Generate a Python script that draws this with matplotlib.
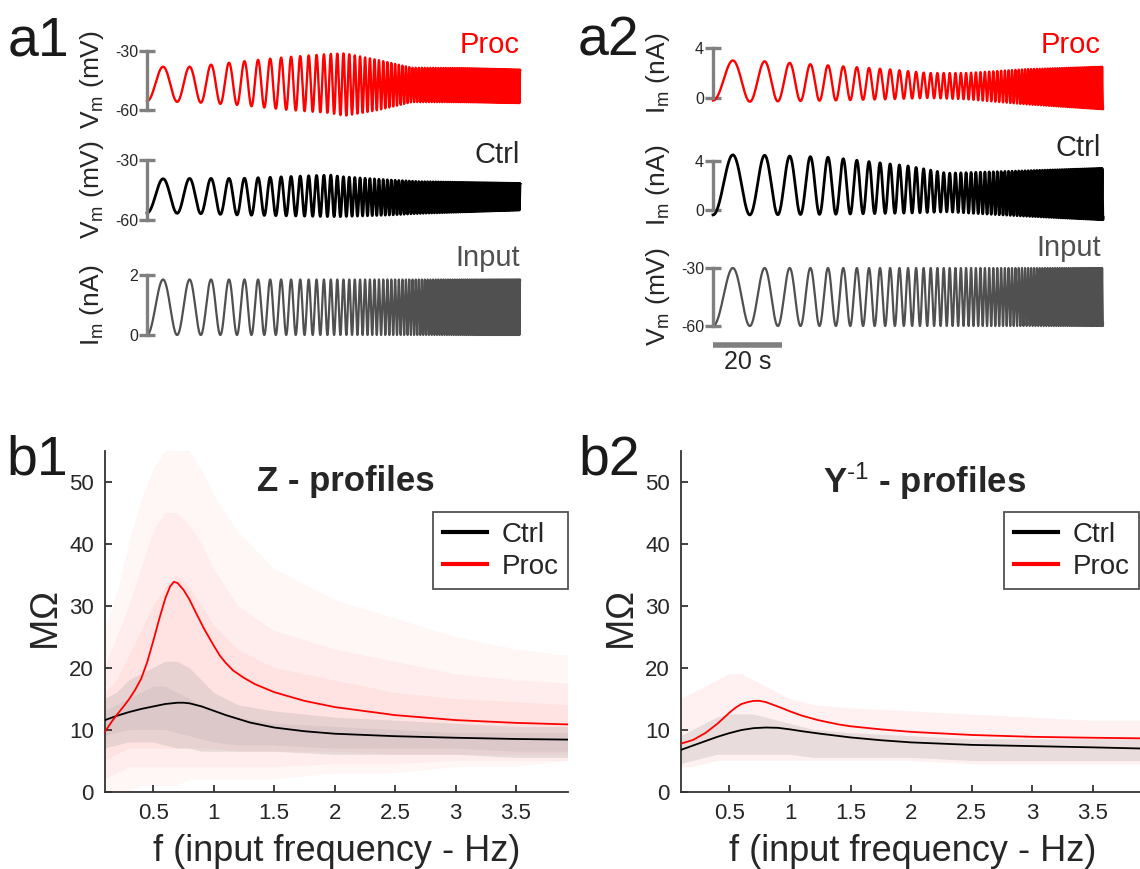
import numpy as np
import matplotlib
matplotlib.use("Agg")
import matplotlib.pyplot as plt

plt.rcParams['font.family'] = ['Liberation Sans', 'DejaVu Sans']
plt.rcParams['mathtext.fontset'] = 'custom'
plt.rcParams['mathtext.rm'] = 'Liberation Sans'
plt.rcParams['mathtext.it'] = 'Liberation Sans:italic'
plt.rcParams['mathtext.bf'] = 'Liberation Sans:bold'

W, H = 1140, 869
RED = '#ff0000'
INPUT_GREY = '#505050'
BAR_GREY = '#808080'
TXT = '#262626'

# ---- exponential ZAP protocols (s, Hz) ----
a1_duration = 108.0
a1_f_start, a1_f_end = 0.10, 2.8
a2_duration = 113.0
a2_f_start, a2_f_end = 0.08, 2.15

# ---- response envelopes: sweep fraction, trough, peak ----
a1_proc_frac = [0, 0.12, 0.25, 0.38, 0.49, 0.53, 0.62, 0.71, 0.85, 1.0]
a1_proc_low = [-55.5, -56, -57.5, -60, -61.5, -63, -60, -56, -56, -56.5]
a1_proc_high = [-38, -38, -35.4, -33, -31.5, -31.2, -34.6, -38.5, -38.7, -39.5]

a1_ctrl_frac = [0, 0.12, 0.25, 0.49, 0.52, 0.65, 0.73, 1.0]
a1_ctrl_low = [-56.5, -56.7, -57.5, -58.3, -58.3, -57.5, -56.7, -55]
a1_ctrl_high = [-39.5, -39.2, -39.2, -37.5, -38.3, -40, -40.8, -41.7]

a1_input_low, a1_input_high = 0.0, 1.85

a2_proc_frac = [0, 0.1, 0.3, 0.45, 0.55, 0.65, 0.8, 1.0]
a2_proc_low = [-0.2, -0.3, -0.2, -0.1, 0.0, -0.1, -0.5, -0.9]
a2_proc_high = [3.0, 3.0, 2.6, 2.3, 2.0, 2.0, 2.3, 2.5]

a2_ctrl_frac = [0, 0.1, 0.3, 0.5, 0.6, 0.8, 1.0]
a2_ctrl_low = [-0.4, -0.4, -0.35, -0.25, -0.15, -0.5, -0.8]
a2_ctrl_high = [4.5, 4.5, 4.3, 3.6, 3.0, 3.2, 3.4]

a2_input_low, a2_input_high = -60.0, -30.0

# ---- impedance profiles (Hz, MOhm) ----
z_ctrl_f = [0.1, 0.2, 0.3, 0.4, 0.5, 0.6, 0.7, 0.75, 0.8, 0.9, 1.0, 1.1, 1.2,
            1.3, 1.4, 1.5, 1.75, 2.0, 2.5, 3.0, 3.5, 3.93]
z_ctrl = [11.6, 12.3, 12.9, 13.4, 13.8, 14.2, 14.4, 14.4, 14.3, 13.8, 13.1, 12.4,
          11.8, 11.2, 10.8, 10.4, 9.8, 9.4, 9.0, 8.75, 8.55, 8.45]
z_proc_f = [0.1, 0.15, 0.2, 0.25, 0.3, 0.35, 0.4, 0.45, 0.5, 0.55, 0.6, 0.64,
            0.67, 0.7, 0.75, 0.8, 0.85, 0.92, 1.0, 1.05, 1.1, 1.16, 1.25, 1.34,
            1.5, 1.75, 2.0, 2.5, 3.0, 3.5, 3.93]
z_proc = [9.7, 11.2, 12.5, 13.7, 15.0, 16.5, 18.3, 21.0, 24.4, 28.0, 31.3, 33.2,
          33.9, 33.7, 32.6, 31.0, 29.0, 26.3, 23.6, 22.0, 20.8, 19.6, 18.4, 17.4,
          16.1, 14.7, 13.7, 12.4, 11.6, 11.15, 10.9]

y_ctrl_f = [0.1, 0.2, 0.3, 0.4, 0.5, 0.6, 0.7, 0.8, 0.9, 1.0, 1.1, 1.25, 1.5,
            1.75, 2.0, 2.5, 3.0, 3.5, 3.93]
y_ctrl = [6.8, 7.5, 8.2, 8.9, 9.5, 10.0, 10.3, 10.4, 10.35, 10.1, 9.8, 9.4, 8.8,
          8.35, 8.0, 7.6, 7.4, 7.2, 7.0]
y_proc_f = [0.1, 0.2, 0.3, 0.4, 0.45, 0.5, 0.55, 0.6, 0.65, 0.7, 0.75, 0.8, 0.87,
            0.95, 1.0, 1.1, 1.23, 1.4, 1.5, 1.75, 2.0, 2.5, 3.0, 3.5, 3.93]
y_proc = [7.8, 8.4, 9.5, 11.0, 11.9, 12.8, 13.6, 14.2, 14.5, 14.7, 14.7, 14.5,
          14.0, 13.4, 13.0, 12.3, 11.6, 10.9, 10.6, 10.1, 9.7, 9.2, 8.9, 8.75, 8.65]

# ---- spread of the individual profiles (MOhm) ----
cloud_f = [0.1, 0.2, 0.3, 0.4, 0.5, 0.6, 0.7, 0.8, 0.9, 1.0, 1.2, 1.5, 2.0,
           2.5, 3.0, 3.5, 3.93]
z_proc_wide_lo = [0, 0, 0, 1, 1, 1, 1, 2, 2, 2, 2, 2, 3, 3, 4, 4, 5]
z_proc_wide_hi = [26, 32, 40, 47, 52, 55, 55, 55, 52, 48, 42, 36, 31, 28, 25, 23, 22]
z_proc_mid_lo = [2, 3, 4, 4, 4, 4, 4, 4, 4, 4, 4, 4, 4.5, 4.5, 5, 5, 5]
z_proc_mid_hi = [20, 25, 30, 36, 42, 45, 45, 43, 40, 36, 30, 26, 23, 21, 19, 18, 17.5]
z_proc_core_lo = [5, 6, 7, 7, 7, 7, 7, 7, 7, 7, 6.5, 6.5, 6.5, 6, 6, 6, 6]
z_proc_core_hi = [16, 18, 22, 26, 30, 33, 35, 33, 30, 27, 23, 20, 18, 16, 15, 14.5, 14]
z_ctrl_wide_lo = [7, 7.5, 8, 8, 8, 7.5, 7, 7, 6.5, 6.5, 6.5, 6.5, 6, 6, 6, 5.5, 5.5]
z_ctrl_wide_hi = [15, 16, 18, 19, 20, 21, 21, 20, 18, 16, 14, 13, 12, 11.5, 11, 10.5, 10.5]
z_ctrl_core_lo = [9, 9.5, 10, 10, 10, 10, 9.5, 9, 8.5, 8, 7.5, 7.5, 7, 7, 7, 6.5, 6.5]
z_ctrl_core_hi = [13, 14, 15, 16, 17, 17, 16, 15, 14, 13, 12, 11, 10.5, 10, 9.5, 9.5, 9.5]

y_proc_wide_lo = [4, 4, 4.5, 5, 5, 5, 5, 5, 5, 5, 5, 5, 5, 4.5, 4.5, 4.5, 4.5]
y_proc_wide_hi = [15, 16, 17, 18, 19, 19, 18, 17, 16, 15, 14, 13.5, 13, 12.5, 12, 11.5, 11.5]
y_ctrl_wide_lo = [4.5, 5, 5.5, 6, 6, 6, 6, 6, 6, 6, 5.5, 5.5, 5.5, 5, 5, 5, 5]
y_ctrl_wide_hi = [9, 10, 11, 12, 12.5, 12.5, 12.5, 12, 11.5, 11, 10, 9.5, 9, 8.5, 8.5, 8.5, 8.5]

fig = plt.figure(figsize=(W / 100, H / 100), dpi=100)


def px_axes(x0, y0, x1, y1):
    return fig.add_axes([x0 / W, 1 - y1 / H, (x1 - x0) / W, (y1 - y0) / H])


def zap(duration, f0, f1, frac, low, high, n=30000):
    t = np.linspace(0, duration, n)
    tau = duration / np.log(f1 / f0)
    cycles = f0 * tau * (np.exp(t / tau) - 1)
    lo = np.interp(t / duration, frac, low)
    hi = np.interp(t / duration, frac, high)
    return t, lo + (hi - lo) * (1 - np.cos(2 * np.pi * cycles)) / 2


def trace_axes(rect, ticks, labels, t, v, color, lw):
    ax = px_axes(*rect)
    ax.plot(t, v, color=color, lw=lw, clip_on=False, solid_joinstyle='round')
    ax.set_xlim(0, t[-1])
    ax.set_ylim(min(ticks), max(ticks))
    for s in ['top', 'right', 'bottom']:
        ax.spines[s].set_visible(False)
    ax.spines['left'].set_color(BAR_GREY)
    ax.spines['left'].set_linewidth(2.4)
    ax.set_xticks([])
    ax.set_yticks(ticks)
    ax.set_yticklabels(labels)
    ax.tick_params(axis='y', direction='inout', length=11, width=2.4,
                   color=BAR_GREY, labelcolor=TXT, labelsize=11.5, pad=1)
    ax.patch.set_visible(False)
    return ax


def ftext(x, y, s, **kw):
    return fig.text(x / W, 1 - y / H, s, **kw)


# ---------------- a1 : current clamp ----------------
t, v = zap(a1_duration, a1_f_start, a1_f_end, a1_proc_frac, a1_proc_low, a1_proc_high)
trace_axes((147, 51, 520, 110), [-60, -30], ['-60', '-30'], t, v, RED, 1.7)
t, v = zap(a1_duration, a1_f_start, a1_f_end, a1_ctrl_frac, a1_ctrl_low, a1_ctrl_high)
trace_axes((147, 160, 520, 220), [-60, -30], ['-60', '-30'], t, v, 'black', 2.0)
t, v = zap(a1_duration, a1_f_start, a1_f_end, [0, 1],
           [a1_input_low] * 2, [a1_input_high] * 2)
trace_axes((147, 275, 520, 335), [0, 2], ['0', '2'], t, v, INPUT_GREY, 1.6)

# ---------------- a2 : voltage clamp ----------------
t, v = zap(a2_duration, a2_f_start, a2_f_end, a2_proc_frac, a2_proc_low, a2_proc_high)
trace_axes((713, 48, 1103, 98), [0, 4], ['0', '4'], t, v, RED, 1.7)
t, v = zap(a2_duration, a2_f_start, a2_f_end, a2_ctrl_frac, a2_ctrl_low, a2_ctrl_high)
trace_axes((713, 161, 1103, 210), [0, 4], ['0', '4'], t, v, 'black', 2.0)
t, v = zap(a2_duration, a2_f_start, a2_f_end, [0, 1],
           [a2_input_low] * 2, [a2_input_high] * 2)
ax_in = trace_axes((713, 268, 1103, 326), [-60, -30], ['-60', '-30'], t, v, INPUT_GREY, 1.6)
# 20 s time scale bar
ax_in.plot([0, 20], [-69.8, -69.8], color=BAR_GREY, lw=4, clip_on=False,
           solid_capstyle='butt')
ftext(748, 362, '20 s', ha='center', va='center', fontsize=18, color=TXT)

# trace names and y labels
for x, ys in [(520, (45, 155, 258)), (1101, (45, 148, 248))]:
    ftext(x, ys[0], 'Proc', ha='right', va='center', fontsize=21, color=RED)
    ftext(x, ys[1], 'Ctrl', ha='right', va='center', fontsize=21, color=TXT)
    ftext(x, ys[2], 'Input', ha='right', va='center', fontsize=21, color=INPUT_GREY)

vm = r'V$_\mathrm{m}$ (mV)'
im = r'I$_\mathrm{m}$ (nA)'
for x, labels, ys in [(92, (vm, vm, im), (80, 190, 305)),
                      (658, (im, im, vm), (73, 185, 297))]:
    for lab, y in zip(labels, ys):
        ftext(x, y, lab, rotation=90, ha='center', va='center', fontsize=19, color=TXT)


# ---------------- b1 / b2 : profiles ----------------
def profile_axes(rect, title, title_x):
    ax = px_axes(*rect)
    ax.set_xlim(0.1, 3.93)
    ax.set_ylim(0, 55)
    ax.set_xticks([0.5, 1, 1.5, 2, 2.5, 3, 3.5])
    ax.set_xticklabels(['0.5', '1', '1.5', '2', '2.5', '3', '3.5'])
    ax.set_yticks([0, 10, 20, 30, 40, 50])
    for s in ['top', 'right']:
        ax.spines[s].set_visible(False)
    for s in ['left', 'bottom']:
        ax.spines[s].set_color('#333333')
        ax.spines[s].set_linewidth(1.3)
    ax.tick_params(direction='in', length=5, width=1.3, color='#333333',
                   labelcolor=TXT, labelsize=16, pad=8)
    ax.set_xlabel('f (input frequency - Hz)', fontsize=26, color=TXT, labelpad=7)
    ax.set_ylabel(r'M$\Omega$', fontsize=27, color=TXT, labelpad=2)
    ax.text(title_x, 0.91, title, transform=ax.transAxes, ha='center', va='center',
            fontsize=25, fontweight='bold', color=TXT)
    return ax


def cloud(ax, lo, hi, color, alpha):
    ax.fill_between(cloud_f, lo, hi, facecolor=color, alpha=alpha, lw=0, zorder=1)


PINK = '#ff8c8c'
GREYDOT = '#8c8c8c'

ax_b1 = profile_axes((105, 451, 568, 792), 'Z - profiles', 0.52)
cloud(ax_b1, z_proc_wide_lo, z_proc_wide_hi, PINK, 0.07)
cloud(ax_b1, z_proc_mid_lo, z_proc_mid_hi, PINK, 0.08)
cloud(ax_b1, z_proc_core_lo, z_proc_core_hi, PINK, 0.1)
cloud(ax_b1, z_ctrl_wide_lo, z_ctrl_wide_hi, GREYDOT, 0.2)
cloud(ax_b1, z_ctrl_core_lo, z_ctrl_core_hi, GREYDOT, 0.12)
ax_b1.plot(z_ctrl_f, z_ctrl, color='black', lw=1.3, label='Ctrl', zorder=3)
ax_b1.plot(z_proc_f, z_proc, color=RED, lw=1.3, label='Proc', zorder=3)

ax_b2 = profile_axes((681, 451, 1145, 792), r'Y$^{\text{-1}}$ - profiles', 0.524)
cloud(ax_b2, y_proc_wide_lo, y_proc_wide_hi, PINK, 0.12)
cloud(ax_b2, y_ctrl_wide_lo, y_ctrl_wide_hi, GREYDOT, 0.2)
ax_b2.plot(y_ctrl_f, y_ctrl, color='black', lw=1.3, label='Ctrl', zorder=3)
ax_b2.plot(y_proc_f, y_proc, color=RED, lw=1.3, label='Proc', zorder=3)

for ax, right in [(ax_b1, 1.0), (ax_b2, (1139 - 681) / (1145 - 681))]:
    leg = ax.legend(loc='upper right', bbox_to_anchor=(right, 0.82), fontsize=20,
                    frameon=True, fancybox=False, borderaxespad=0, handlelength=1.6,
                    handletextpad=0.5, borderpad=0.35, labelspacing=0.2)
    leg.get_frame().set_edgecolor('#262626')
    leg.get_frame().set_linewidth(1.3)
    for line in leg.get_lines():
        line.set_linewidth(3)
    for txt in leg.get_texts():
        txt.set_color(TXT)

# panel letters
for x, y, s in [(8, 42, 'a1'), (578, 42, 'a2'), (6, 460, 'b1'), (578, 460, 'b2')]:
    ftext(x, y, s, ha='left', va='center', fontsize=40, color='#1a1a1a')

fig.savefig('out.png', dpi=100)
